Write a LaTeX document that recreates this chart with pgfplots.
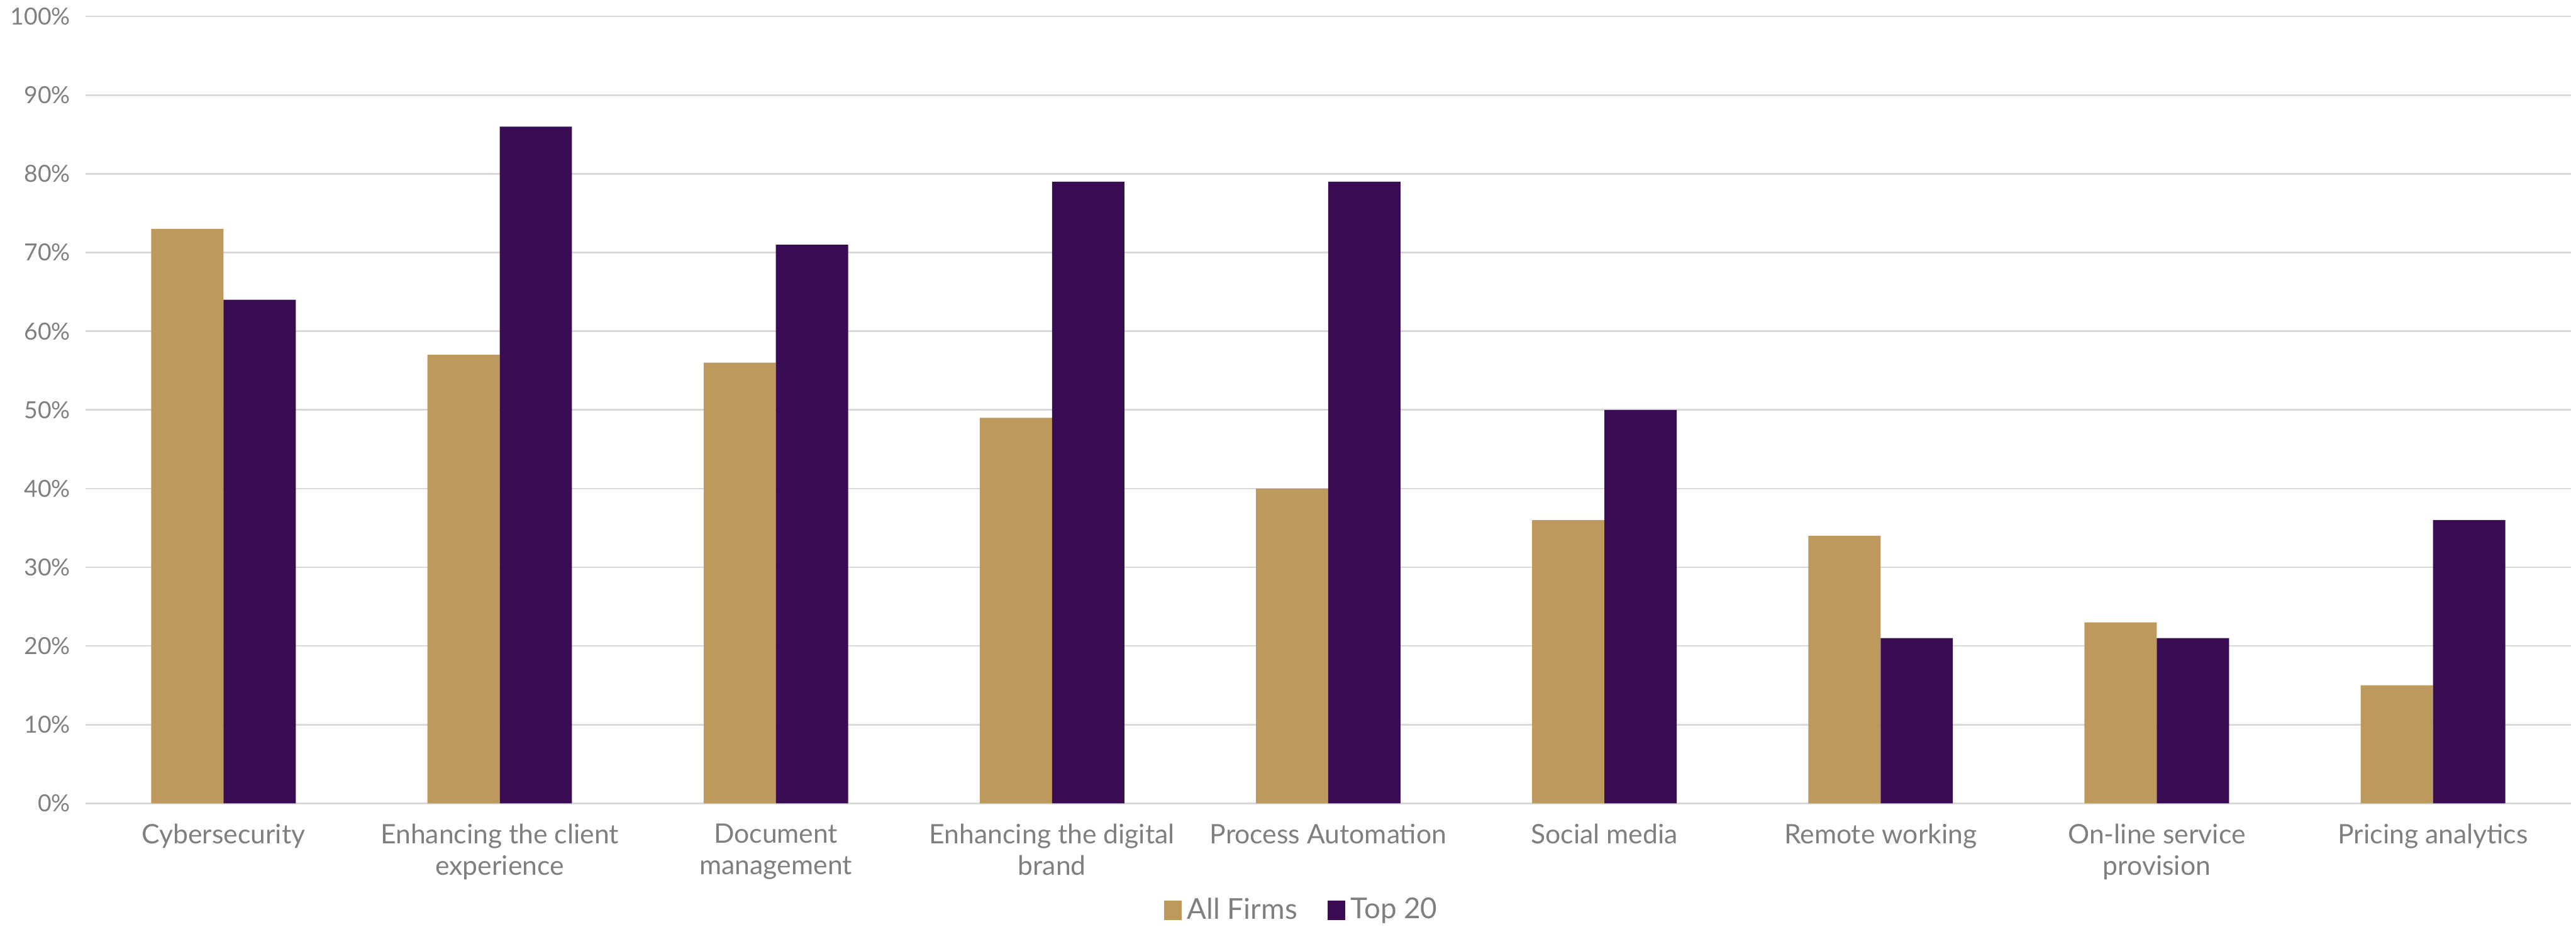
\documentclass[border=0pt]{standalone}
\usepackage{pgfplots}
\pgfplotsset{compat=1.18}
\usepackage{fontspec}
\setmainfont{Lato}
\definecolor{tan}{HTML}{BD995D}
\definecolor{plum}{HTML}{3A0C54}
\definecolor{txt}{HTML}{7F7F7F}
\definecolor{grd}{HTML}{D9D9D9}
\begin{document}
\begin{tikzpicture}
\begin{axis}[
  scale only axis,
  width=907.8pt, height=287.4pt,
  ybar=0pt, bar width=26.4pt,
  xmin=-0.5, xmax=8.5,
  ymin=0, ymax=100,
  ytick={0,10,...,100},
  yticklabel={\pgfmathprintnumber{\tick}\%},
  /pgf/number format/assume math mode=true,
  xtick={0,...,8},
  xticklabels={Cybersecurity,{Enhancing the client\\experience},{Document\\management},{Enhancing the digital\\brand},Process Automation,Social media,Remote working,{On-line service\\provision},Pricing analytics},
  xticklabel style={align=center, font=\fontsize{9.8}{11.5}\selectfont, text=txt, yshift=-4pt},
  yticklabel style={font=\fontsize{8.6}{10}\selectfont, text=txt, xshift=-2pt},
  major tick length=0pt,
  axis line style={draw=none},
  ymajorgrids,
  grid style={draw=grd, line width=0.6pt},
  legend style={at={(0.49,-0.136)}, anchor=center, draw=none, legend columns=2, font=\fontsize{10.5}{12}\selectfont, text=txt, /tikz/every even column/.append style={column sep=9pt}},
  legend image code/.code={\fill[#1] (0pt,-3.5pt) rectangle (6.5pt,3.5pt);},
  legend cell align=left,
]
\addplot[fill=tan, draw=none] coordinates {(0,73) (1,57) (2,56) (3,49) (4,40) (5,36) (6,34) (7,23) (8,15)};
\addplot[fill=plum, draw=none] coordinates {(0,64) (1,86) (2,71) (3,79) (4,79) (5,50) (6,21) (7,21) (8,36)};
\legend{All Firms, Top 20}
\end{axis}
\pgfresetboundingbox
\useasboundingbox (current axis.south west) ++(-31.2pt,-45pt) rectangle ++(940.8pt,338.4pt);
\end{tikzpicture}
\end{document}
